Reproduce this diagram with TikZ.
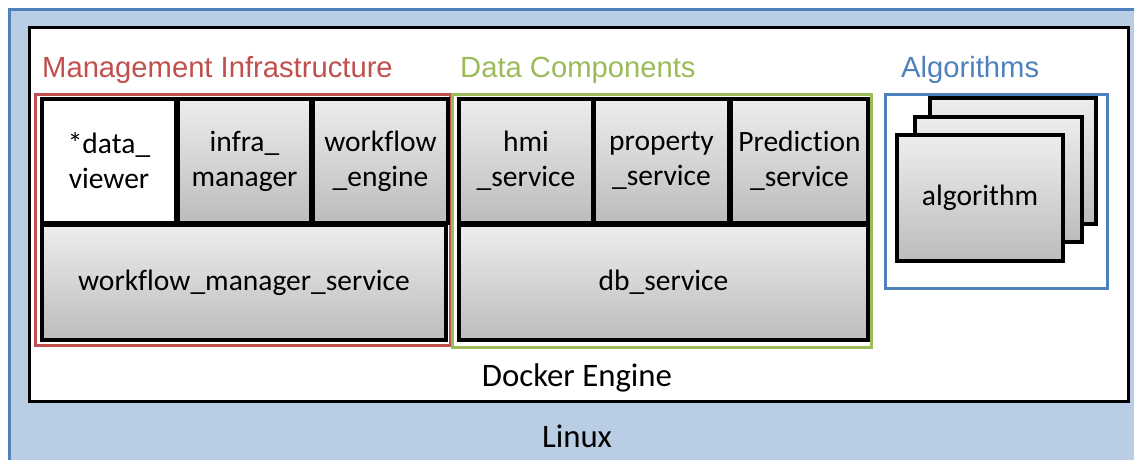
\documentclass[tikz,border=0pt]{standalone}
\usepackage{fontspec}
\setmainfont{Carlito}[Ligatures={NoCommon}]
\newfontfamily\labelfont{Liberation Sans}
\definecolor{linuxfill}{HTML}{B9CDE5}
\definecolor{linuxline}{HTML}{4F81BD}
\definecolor{mgmtred}{HTML}{C0504D}
\definecolor{datagreen}{HTML}{9BBB59}
\definecolor{algblue}{HTML}{4F81BD}
\definecolor{boxtop}{HTML}{EDEDED}
\definecolor{boxbot}{HTML}{BCBCBC}
\tikzset{
  box/.style={draw=black, line width=4pt, top color=boxtop, bottom color=boxbot,
    anchor=north west, inner sep=0pt, align=center,
    font=\fontsize{29.5}{35}\selectfont},
  whitebox/.style={box, top color=white, bottom color=white},
  group/.style={line width=3pt, anchor=north west, inner sep=0pt},
  grouplabel/.style={anchor=base west, inner sep=0pt, font=\labelfont\fontsize{29.2}{32}\selectfont},
  plainlabel/.style={anchor=base, inner sep=0pt, font=\fontsize{32.8}{36}\selectfont}
}
\begin{document}
\begin{tikzpicture}[x=1pt,y=-1pt]
\useasboundingbox (0,0) rectangle (1134,460);
\clip (0,0) rectangle (1134,460);
% Linux
\node[group, draw=linuxline, fill=linuxfill, minimum width=1140pt, minimum height=470pt] (linux) at (8,8) {};
\node[plainlabel] (linuxtext) at (577,447) {Linux};
% Docker
\node[group, draw=black, fill=white, minimum width=1099pt, minimum height=374pt] (docker) at (28,26) {};
\node[plainlabel] (dockertext) at (577,386) {Docker Engine};
% Group labels
\node[grouplabel, text=mgmtred] (mgmtlabel) at (42,77.5) {Management Infrastructure};
\node[grouplabel, text=datagreen] (datalabel) at (460,77.5) {Data Components};
\node[grouplabel, text=algblue] (alglabel) at (901,77.5) {Algorithms};
% Group boxes
\node[group, draw=mgmtred, minimum width=415pt, minimum height=251pt] (mgmt) at (34,93) {};
\node[group, draw=datagreen, minimum width=419pt, minimum height=253pt] (data) at (451,93) {};
\node[group, draw=algblue, fill=white, minimum width=222pt, minimum height=194pt] (algs) at (884,93) {};
% Management boxes
\node[whitebox, minimum width=134pt, minimum height=124pt] (viewer) at (40,97) {*data\_\\viewer};
\node[box, minimum width=133pt, minimum height=124pt] (infra) at (176,97) {infra\_\\manager};
\node[box, minimum width=135pt, minimum height=124pt] (wfengine) at (311,97) {workflow\\\_engine};
\node[box, minimum width=404pt, minimum height=115pt] (wfmgr) at (40,223) {workflow\_manager\_service};
% Data boxes
\node[box, minimum width=134pt, minimum height=124pt] (hmi) at (457,97) {hmi\\\_service};
\node[box, minimum width=135pt, minimum height=124pt] (prop) at (592,97) {property\\\_service};
\node[box, minimum width=137pt, minimum height=124pt] (pred) at (729,97) {Prediction\\\_service};
\node[box, minimum width=409pt, minimum height=115pt] (db) at (457,223) {db\_service};
% Algorithm cards
\node[box, minimum width=166pt, minimum height=126pt] (alg3) at (928,96) {};
\node[box, minimum width=167pt, minimum height=125pt] (alg2) at (913,115) {};
\node[box, minimum width=166pt, minimum height=126pt] (alg1) at (895,133) {algorithm};
\end{tikzpicture}
\end{document}
